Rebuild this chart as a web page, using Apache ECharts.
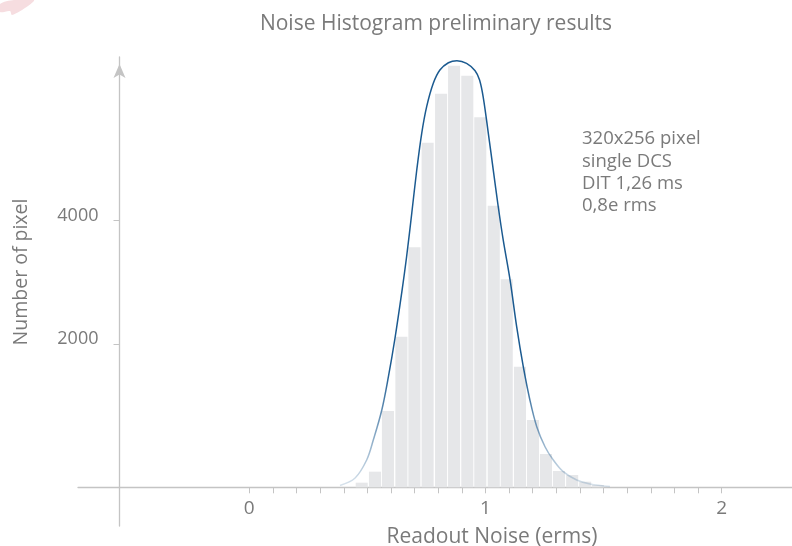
<!DOCTYPE html>
<html lang="en">
<head>
    <meta charset="UTF-8">
    <title>Noise Histogram preliminary results</title>
    <style>
        html, body {
            margin: 0;
            padding: 0;
            background: #fff;
        }

        #chart {
            width: 792px;
            height: 546px;
        }
    </style>
    <script src="https://cdn.jsdelivr.net/npm/echarts@6/dist/echarts.min.js"></script>
</head>
<body>
    <div id="chart"></div>

    <script>
        // histogram bins (centre, erms) and bar tops (in the y-axis units)
        const binCenters = [0.476, 0.532, 0.587, 0.644, 0.699, 0.755, 0.812, 0.867, 0.923, 0.978,
                            1.035, 1.090, 1.146, 1.201, 1.256, 1.311, 1.367, 1.422, 1.476];
        const binTops = [-239, -61, 921, 2123, 3569, 5262, 6055, 6508, 6346, 5673,
                         4242, 3052, 1637, 775, 225, -50, -115, -223, -277];

        // fitted curve, read point by point
        const fitX = [0.384, 0.448, 0.497, 0.525, 0.561, 0.589, 0.617, 0.645, 0.666, 0.688,
                      0.709, 0.730, 0.751, 0.779, 0.807, 0.843, 0.879, 0.920, 0.956, 0.975,
                      0.991, 1.012, 1.033, 1.054, 1.075, 1.104, 1.132, 1.160, 1.188, 1.217,
                      1.252, 1.287, 1.329, 1.386, 1.442, 1.527];
        const fitY = [-285, -163, 128, 451, 937, 1476, 2102, 2825, 3417, 4125,
                      4820, 5414, 5845, 6223, 6438, 6556, 6589, 6547, 6427, 6276,
                      5985, 5414, 4820, 4226, 3689, 3042, 2285, 1637, 1099, 667,
                      343, 128, -61, -196, -260, -301];

        // axis ticks and labels
        const xMinorTicks = [0, 0.1, 0.2, 0.3, 0.4, 0.5, 0.6, 0.7, 0.8, 0.9, 1,
                             1.1, 1.2, 1.3, 1.4, 1.5, 1.6, 1.7, 1.8, 1.9, 2];
        const xTickLabels = [0, 1, 2];
        const yTickLabels = [2000, 4000];

        const notes = ['320x256 pixel', 'single DCS', 'DIT 1,26 ms', '0,8e rms'];

        // layout
        const binWidth = 0.051;
        const xAxisCross = -314;   // y value where the x axis line runs
        const textColor = '#7a7a7a';
        const axisColor = '#c4c4c4';
        const fontFamily = '"Open Sans", Roboto, sans-serif';

        const chart = echarts.init(document.getElementById('chart'));

        const option = {
            animation: false,
            title: {
                text: 'Noise Histogram preliminary results',
                left: 431,
                top: 9,
                textAlign: 'center',
                textStyle: {
                    color: textColor,
                    fontSize: 21,
                    fontWeight: 'normal',
                    fontFamily: fontFamily
                }
            },
            grid: {
                left: 78,
                right: 0,
                top: 57,
                bottom: 20
            },
            xAxis: {
                type: 'value',
                min: -0.7252,
                max: 2.2977,
                offset: -38.7,
                axisLine: {
                    onZero: false,
                    lineStyle: { color: axisColor, width: 1.3 }
                },
                axisTick: {
                    customValues: xMinorTicks,
                    length: 6,
                    lineStyle: { color: axisColor }
                },
                axisLabel: {
                    customValues: xTickLabels,
                    margin: 12,
                    color: textColor,
                    fontSize: 19,
                    fontFamily: fontFamily
                },
                splitLine: { show: false }
            },
            yAxis: {
                type: 'value',
                min: -940,
                max: 6649,
                offset: -41.5,
                axisLine: {
                    show: true,
                    onZero: false,
                    symbol: ['none', 'arrow'],
                    symbolSize: [9, 14],
                    symbolOffset: [0, -7],
                    lineStyle: { color: axisColor, width: 1.3 }
                },
                axisTick: {
                    show: true,
                    customValues: yTickLabels,
                    length: 6,
                    lineStyle: { color: axisColor }
                },
                axisLabel: {
                    customValues: yTickLabels,
                    formatter: (v) => String(v),
                    margin: 21,
                    verticalAlign: 'bottom',
                    lineHeight: 10,
                    color: textColor,
                    fontSize: 18,
                    fontFamily: fontFamily
                },
                splitLine: { show: false }
            },
            graphic: [
                {
                    type: 'text',
                    x: 21,
                    y: 272,
                    rotation: Math.PI / 2,
                    style: {
                        text: 'Number of pixel',
                        align: 'center',
                        verticalAlign: 'middle',
                        fill: textColor,
                        fontSize: 19.5,
                        fontFamily: fontFamily
                    }
                },
                {
                    type: 'text',
                    x: 492,
                    y: 537,
                    style: {
                        text: 'Readout Noise (erms)',
                        align: 'center',
                        verticalAlign: 'middle',
                        fill: textColor,
                        fontSize: 21,
                        fontFamily: fontFamily
                    }
                },
                {
                    type: 'text',
                    x: 582,
                    y: 128,
                    style: {
                        text: notes.join('\n'),
                        lineHeight: 22.3,
                        fill: textColor,
                        fontSize: 18.5,
                        fontFamily: fontFamily
                    }
                },
                {
                    // faint logo fragment in the corner
                    type: 'polygon',
                    shape: {
                        points: [[0, 4], [14, 0], [34, 0], [28, 6], [12, 15], [10, 11], [0, 12]],
                        smooth: 0.3
                    },
                    style: { fill: '#f6dde0' }
                }
            ],
            series: [
                {
                    name: 'histogram',
                    type: 'custom',
                    data: binCenters.map((x, i) => [x, binTops[i]]),
                    renderItem: function (params, api) {
                        const x = api.value(0);
                        const p0 = api.coord([x - binWidth / 2, xAxisCross]);
                        const p1 = api.coord([x + binWidth / 2, api.value(1)]);
                        return {
                            type: 'rect',
                            shape: {
                                x: p0[0],
                                y: p1[1],
                                width: p1[0] - p0[0],
                                height: p0[1] - p1[1]
                            },
                            style: { fill: '#e6e7e9' }
                        };
                    },
                    z: 1
                },
                {
                    name: 'fit',
                    type: 'line',
                    data: fitX.map((x, i) => [x, fitY[i]]),
                    smooth: 0.35,
                    showSymbol: false,
                    clip: false,
                    lineStyle: {
                        width: 1.5,
                        color: new echarts.graphic.LinearGradient(0, 0, 0, 1, [
                            { offset: 0, color: '#1b5a90' },
                            { offset: 0.72, color: '#1b5a90' },
                            { offset: 1, color: 'rgba(27, 90, 144, 0.15)' }
                        ])
                    },
                    z: 2
                }
            ]
        };

        chart.setOption(option);
    </script>
</body>
</html>
